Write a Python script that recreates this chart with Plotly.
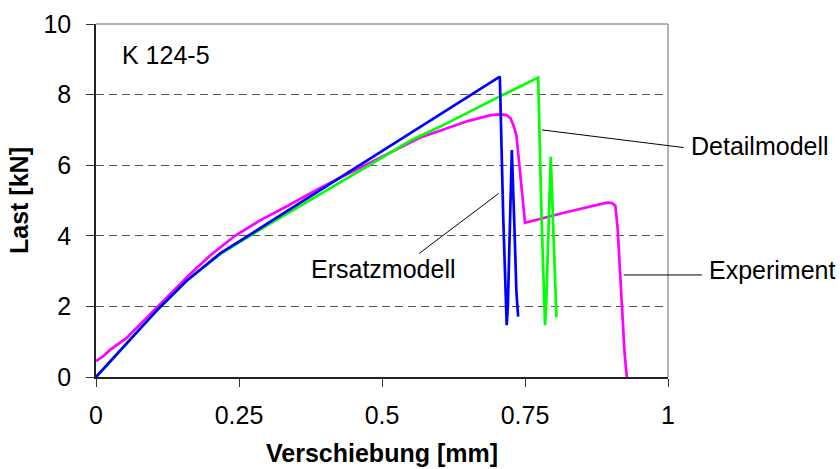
import plotly.graph_objects as go

# Ersatzmodell (blue)
ers_x = [0, 0.11, 0.158, 0.217, 0.30, 0.40, 0.50, 0.60, 0.706, 0.712, 0.716, 0.718, 0.720, 0.724, 0.727, 0.731, 0.735, 0.738]
ers_y = [0, 1.95, 2.72, 3.50, 4.35, 5.38, 6.40, 7.42, 8.51, 4.5, 2.0, 1.47, 2.0, 4.8, 6.43, 4.5, 2.4, 1.71]

# Detailmodell (green)
det_x = [0, 0.11, 0.158, 0.217, 0.30, 0.40, 0.478, 0.55, 0.60, 0.706, 0.773, 0.779, 0.783, 0.785, 0.787, 0.792, 0.795, 0.799, 0.803, 0.805]
det_y = [0, 1.95, 2.72, 3.48, 4.30, 5.25, 6.00, 6.70, 7.08, 7.95, 8.48, 4.5, 2.0, 1.47, 2.0, 4.8, 6.24, 4.4, 2.3, 1.69]

# Experiment (magenta)
exp_x = [0, 0.012, 0.024, 0.040, 0.053, 0.108, 0.16, 0.20, 0.243, 0.286, 0.333, 0.391, 0.47, 0.566, 0.65, 0.69, 0.706, 0.718, 0.725, 0.730, 0.735, 0.75, 0.82, 0.893, 0.902, 0.908, 0.912, 0.919, 0.924, 0.928]
exp_y = [0.45, 0.58, 0.76, 0.95, 1.10, 2.00, 2.85, 3.45, 4.00, 4.43, 4.83, 5.35, 6.00, 6.78, 7.25, 7.42, 7.44, 7.42, 7.32, 7.12, 6.85, 4.37, 4.66, 4.94, 4.93, 4.85, 4.2, 1.99, 0.7, 0.0]

x_ticks = [0, 0.25, 0.5, 0.75, 1]
x_tick_text = ["0", "0.25", "0.5", "0.75", "1"]
y_ticks = [0, 2, 4, 6, 8, 10]

FONT = "Liberation Sans, Arial, sans-serif"

fig = go.Figure()
fig.add_trace(go.Scatter(x=exp_x, y=exp_y, mode="lines", name="Experiment",
                         line=dict(color="#FF00FF", width=2.7)))
fig.add_trace(go.Scatter(x=det_x, y=det_y, mode="lines", name="Detailmodell",
                         line=dict(color="#00FF00", width=2.7)))
fig.add_trace(go.Scatter(x=ers_x, y=ers_y, mode="lines", name="Ersatzmodell",
                         line=dict(color="#0000FF", width=2.7)))

# x range is [0,1] so paper x == data x; paper y == data y / 10
def ly(v):
    return v / 10.0

shapes = [
    # grey frame (top and right)
    dict(type="line", xref="paper", yref="paper", x0=0, x1=1, y0=1, y1=1,
         line=dict(color="#9a9a9a", width=1.5)),
    dict(type="line", xref="paper", yref="paper", x0=1, x1=1, y0=0, y1=1,
         line=dict(color="#9a9a9a", width=1.5)),
    # leader lines
    dict(type="line", xref="paper", yref="paper", x0=0.7796, y0=ly(7.00), x1=1.0273, y1=ly(6.50),
         line=dict(color="black", width=1)),
    dict(type="line", xref="paper", yref="paper", x0=0.9224, y0=ly(2.89), x1=1.0593, y1=ly(2.89),
         line=dict(color="black", width=1)),
    dict(type="line", xref="paper", yref="paper", x0=0.704, y0=ly(5.20), x1=0.565, y1=ly(3.50),
         line=dict(color="black", width=1)),
]

annots = [
    dict(text="K 124-5", x=0.042, y=ly(9.11), xanchor="left", yanchor="middle"),
    dict(text="Detailmodell", x=1.0373, y=ly(6.55), xanchor="left", yanchor="middle"),
    dict(text="Experiment", x=1.0689, y=ly(3.03), xanchor="left", yanchor="middle"),
    dict(text="Ersatzmodell", x=0.502, y=ly(3.05), xanchor="center", yanchor="middle"),
]
for a in annots:
    a.update(xref="paper", yref="paper", showarrow=False,
             font=dict(family=FONT, size=25, color="black"))

fig.update_layout(
    width=840, height=469,
    margin=dict(l=96, r=172, t=24, b=92, autoexpand=False),
    paper_bgcolor="white", plot_bgcolor="white",
    showlegend=False,
    font=dict(family=FONT, size=25, color="black"),
    shapes=shapes,
    annotations=annots,
    xaxis=dict(
        range=[0, 1], tickvals=x_ticks, ticktext=x_tick_text,
        ticks="outside", ticklen=8, tickcolor="#333", tickwidth=1,
        showline=True, linecolor="#222", linewidth=1.5,
        showgrid=False, zeroline=False, ticklabelstandoff=7,
        automargin=False,
        tickfont=dict(family=FONT, size=25, color="black"),
        title=dict(text="Verschiebung [mm]", standoff=17,
                   font=dict(family=FONT, size=25, color="black", weight="bold")),
    ),
    yaxis=dict(
        range=[0, 10], tickvals=y_ticks,
        ticks="outside", ticklen=8, tickcolor="#333", tickwidth=1,
        showline=True, linecolor="#222", linewidth=1.5,
        showgrid=True, gridcolor="#555", gridwidth=1, griddash="8px,5px",
        zeroline=False, ticklabelstandoff=10, automargin=False,
        tickfont=dict(family=FONT, size=25, color="black"),
        title=dict(text="Last [kN]", standoff=8,
                   font=dict(family=FONT, size=25, color="black", weight="bold")),
    ),
)

fig.write_html("out.html",
               config={"displayModeBar": False},
               post_script="document.body.style.margin='0';document.body.style.padding='0';"
                           "document.documentElement.style.overflow='hidden';")
